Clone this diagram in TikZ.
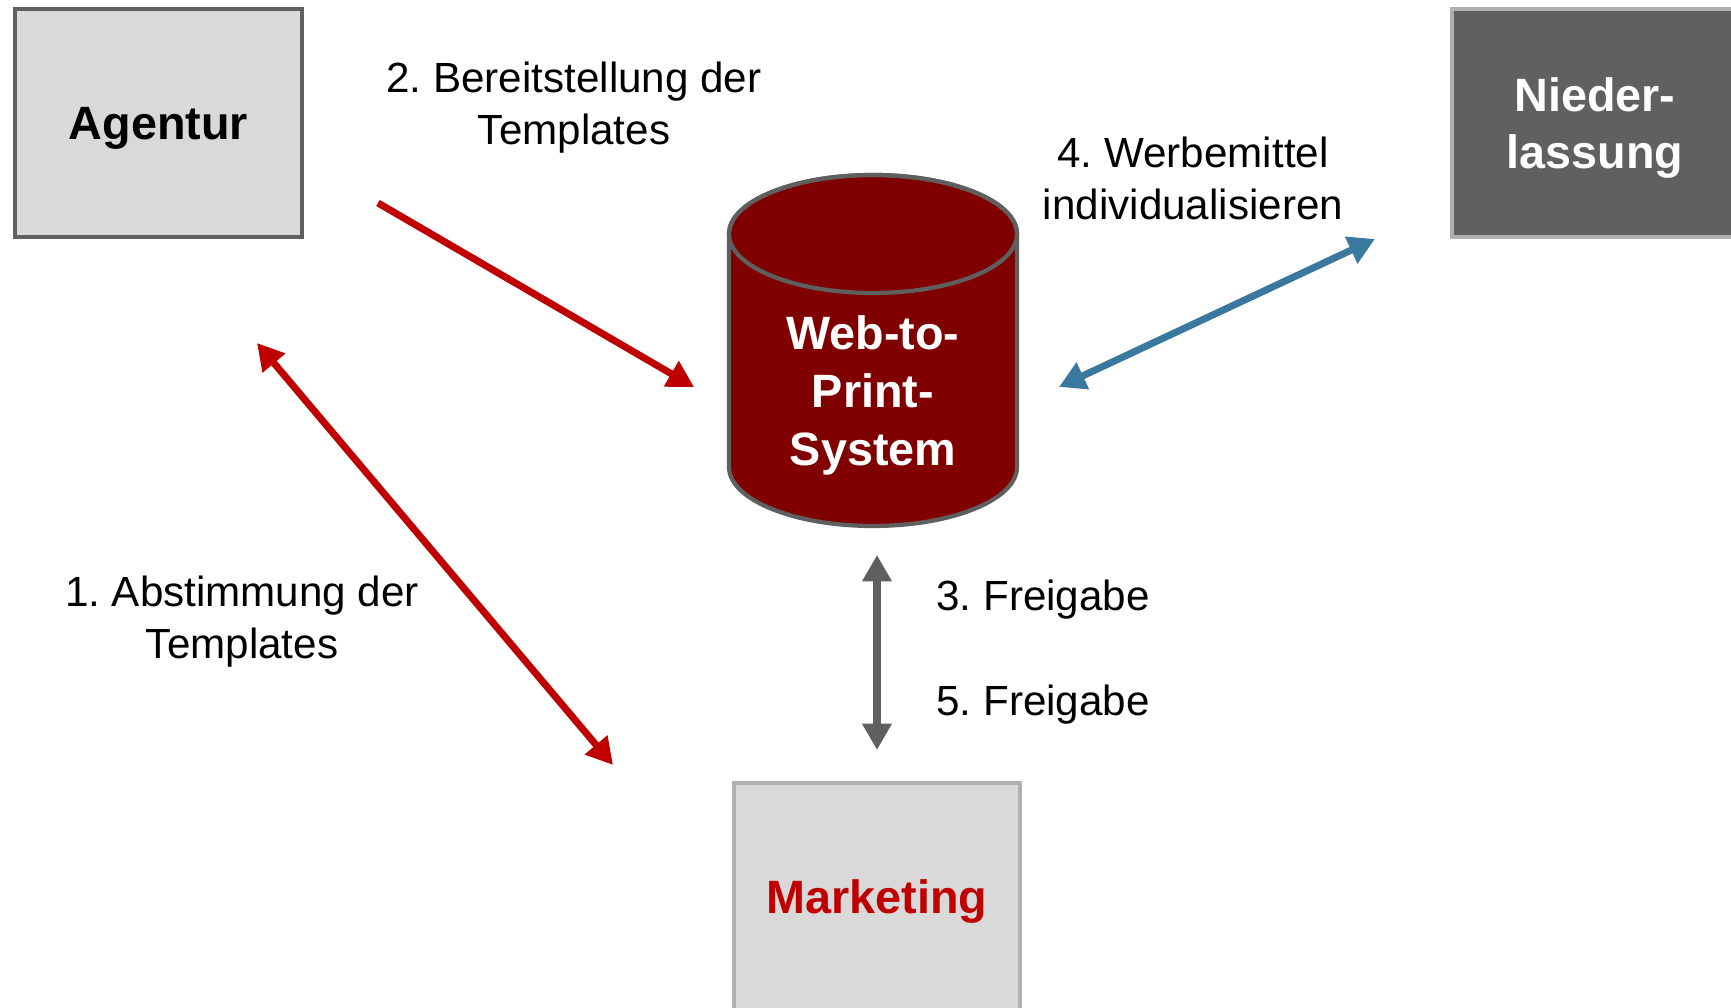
\documentclass[tikz,border=0pt]{standalone}
\usepackage{fontspec}
\setmainfont{Liberation Sans}
\usetikzlibrary{arrows.meta}
\definecolor{boxgray}{HTML}{D9D9D9}
\definecolor{darkbox}{HTML}{606060}
\definecolor{lightrim}{HTML}{B0B0B0}
\definecolor{dbred}{HTML}{800000}
\definecolor{mkred}{HTML}{C00000}
\definecolor{linkblue}{HTML}{3A78A0}
\definecolor{linkgray}{HTML}{5F5F5F}
\frenchspacing

\begin{document}
\begin{tikzpicture}[
		>={Triangle[length=7.5pt,width=8pt]},
		box/.style={draw, minimum width=2.865cm, minimum height=2.275cm,
			line width=1.2pt, align=center, text depth=0pt,
			font=\fontsize{13.3}{16}\selectfont\bfseries},
		lbl/.style={align=center, font=\fontsize{12}{14.8}\selectfont},
		link/.style={line width=2pt},
	]
	\useasboundingbox (0,0) rectangle (17.31,10.08);
	\node[box, fill=boxgray, draw=darkbox] (agentur) at (1.585,8.85) {Agentur};
	\node[box, fill=darkbox, draw=lightrim, text=white] (niederlassung) at (15.95,8.85) {Nieder-\\lassung};
	\node[box, fill=boxgray, draw=lightrim, text=mkred] (marketing) at (8.77,1.11) {Marketing};
	\filldraw [fill=dbred, draw=linkgray, line width=1.2pt] (7.29,7.74) -- (7.29,5.41)
		arc[start angle=180, end angle=360, x radius=1.44, y radius=0.59] -- (10.17,7.74)
		arc[start angle=0, end angle=180, x radius=1.44, y radius=0.59] -- cycle;
	\draw [draw=linkgray, line width=1.2pt] (8.73,7.74) ellipse [x radius=1.44, y radius=0.59];
	\node[align=center, text=white, font=\fontsize{13.3}{16.5}\selectfont\bfseries] (w2p) at (8.73,6.13) {Web-to-\\Print-\\System};
	\coordinate (abst-a) at (2.57,6.65);
	\coordinate (abst-b) at (6.13,2.43);
	\coordinate (bereit-a) at (3.78,8.05);
	\coordinate (bereit-b) at (6.94,6.21);
	\coordinate (werbe-a) at (10.59,6.21);
	\coordinate (werbe-b) at (13.75,7.69);
	\coordinate (frei-a) at (8.77,4.53);
	\coordinate (frei-b) at (8.77,2.58);
	\draw [link, mkred, <->] (abst-a) -- (abst-b);
	\draw [link, mkred, ->] (bereit-a) -- (bereit-b);
	\draw [link, linkblue, <->] (werbe-a) -- (werbe-b);
	\draw [link, linkgray, <->] (frei-a) -- (frei-b);
	\node[lbl] (abst) at (2.42,3.865) {1. Abstimmung der\\Templates};
	\node[lbl] (bereit) at (5.74,9.005) {2. Bereitstellung der\\Templates};
	\node[lbl, anchor=base west] (frei3) at (9.24,3.97) {3. Freigabe};
	\node[lbl] (werbe) at (11.93,8.30) {4. Werbemittel\\individualisieren};
	\node[lbl, anchor=base west] (frei5) at (9.24,2.92) {5. Freigabe};
\end{tikzpicture}
\end{document}
